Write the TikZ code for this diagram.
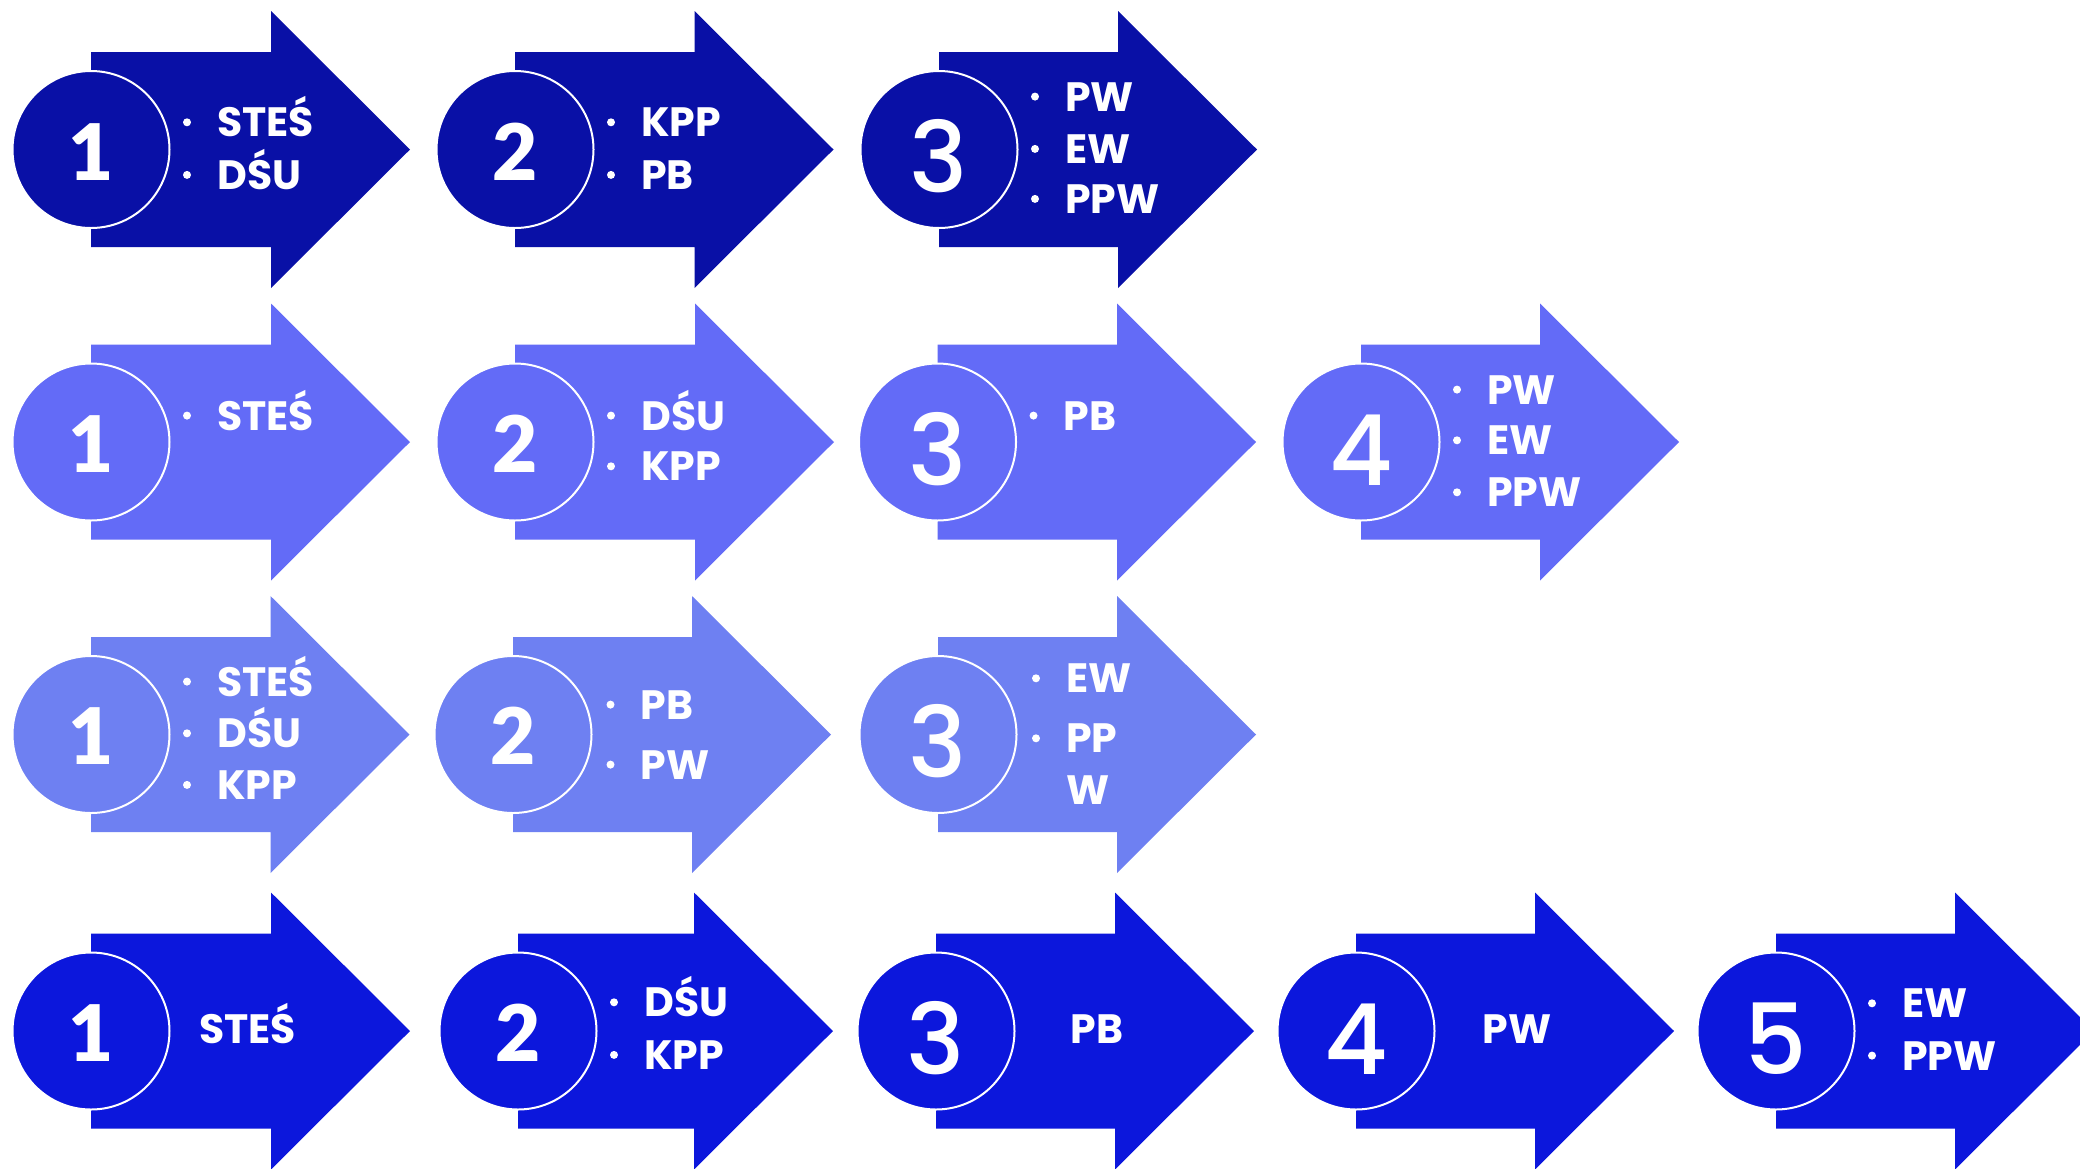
\documentclass[tikz,border=0pt]{standalone}
\usepackage{fontspec}
\newfontfamily\labfont{Poppins Bold}
\newfontfamily\numfontA{Lato Black}
\newfontfamily\numfontB{Poppins Medium}
\definecolor{cA}{HTML}{0910A6}
\definecolor{cB}{HTML}{636BF7}
\definecolor{cC}{HTML}{6E80F2}
\definecolor{cD}{HTML}{0C17DC}
\tikzset{
  disc/.style={circle, draw=white, line width=2pt, minimum size=157pt, inner sep=0pt},
  numA/.style={text=white, font=\numfontA\fontsize{78}{78}\selectfont, anchor=base, inner sep=0pt},
  numB/.style={text=white, font=\numfontB\fontsize{98}{98}\selectfont, anchor=base, inner sep=0pt},
  lab/.style={text=white, font=\labfont\fontsize{41}{41}\selectfont, anchor=base west, inner sep=0pt},
  bul/.style={fill=white},
}
% #1 name, #2 rect left x, #3 centre y, #4 head base x, #5 colour
\newcommand\ArrowBody[5]{%
  \fill[#5] (#2,{#3-97.5}) -- (#4,{#3-97.5}) -- (#4,{#3-138.5}) -- ({#4+139},#3)
    -- (#4,{#3+138.5}) -- (#4,{#3+97.5}) -- (#2,{#3+97.5}) -- cycle;
  \node[disc, fill=#5] (#1) at (#2,#3) {};
}
% #1 name, #2 rect left x, #3 centre y, #4 baseline offset, #5 text
\newcommand\LabB[5]{%
  \node[lab] (#1) at ({#2+126},{#3+#4}) {#5};
  \fill[bul] ({#2+96},{#3+#4-14.4}) circle (4);
}
\begin{document}
\begin{tikzpicture}[x=1pt,y=-1pt]
\useasboundingbox (0,0) rectangle (2080,1168);
\fill[white] (0,0) rectangle (2080,1168);

% ---------- row 1 ----------
\ArrowBody{a11}{91}{149.5}{271}{cA}
\node[numA] (a11n) at (91,180.5) {1};
\LabB{a11a}{91}{149.5}{-12.8}{STEŚ}
\LabB{a11b}{91}{149.5}{39.8}{DŚU}

\ArrowBody{a12}{515}{149.5}{694.5}{cA}
\node[numA] (a12n) at (515,180.5) {2};
\LabB{a12a}{515}{149.5}{-12.8}{KPP}
\LabB{a12b}{515}{149.5}{39.8}{PB}

\ArrowBody{a13}{939}{149.5}{1118}{cA}
\node[numB] (a13n) at (939,192.5) {3};
\LabB{a13a}{939}{149.5}{-38.5}{PW}
\LabB{a13b}{939}{149.5}{13.8}{EW}
\LabB{a13c}{939}{149.5}{63.8}{PPW}

% ---------- row 2 ----------
\ArrowBody{a21}{91}{442}{271}{cB}
\node[numA] (a21n) at (91,472) {1};
\LabB{a21a}{91}{442}{-12}{STEŚ}

\ArrowBody{a22}{515}{442}{695}{cB}
\node[numA] (a22n) at (515,472) {2};
\LabB{a22a}{515}{442}{-12}{DŚU}
\LabB{a22b}{515}{442}{38.7}{KPP}

\ArrowBody{a23}{937.5}{442}{1117}{cB}
\node[numB] (a23n) at (937.5,485) {3};
\LabB{a23a}{937.5}{442}{-12}{PB}

\ArrowBody{a24}{1361}{442}{1540}{cB}
\node[numB] (a24n) at (1361,485) {4};
\LabB{a24a}{1361}{442}{-38}{PW}
\LabB{a24b}{1361}{442}{12.7}{EW}
\LabB{a24c}{1361}{442}{64.7}{PPW}

% ---------- row 3 ----------
\ArrowBody{a31}{91}{734.5}{270.5}{cC}
\node[numA] (a31n) at (91,764.5) {1};
\LabB{a31a}{91}{734.5}{-38.5}{STEŚ}
\LabB{a31b}{91}{734.5}{13.2}{DŚU}
\LabB{a31c}{91}{734.5}{64.8}{KPP}

\ArrowBody{a32}{513}{734.5}{692}{cC}
\node[numA] (a32n) at (513,764.5) {2};
\LabB{a32a}{514.5}{734.5}{-15.5}{PB}
\LabB{a32b}{514.5}{734.5}{44.5}{PW}

\ArrowBody{a33}{938}{734.5}{1117}{cC}
\node[numB] (a33n) at (938,777.5) {3};
\LabB{a33a}{940}{734.5}{-41.8}{EW}
\LabB{a33b}{940}{734.5}{18.2}{PP}
\node[lab] (a33c) at (1066,804.3) {W};

% ---------- row 4 ----------
\ArrowBody{a41}{91}{1031}{271}{cD}
\node[numA] (a41n) at (91,1061) {1};
\node[lab] (a41a) at (199,1043.3) {STEŚ};

\ArrowBody{a42}{518}{1031}{694}{cD}
\node[numA] (a42n) at (518,1061) {2};
\LabB{a42a}{518}{1031}{-14.3}{DŚU}
\LabB{a42b}{518}{1031}{38.3}{KPP}

\ArrowBody{a43}{936}{1031}{1115}{cD}
\node[numB] (a43n) at (936,1074) {3};
\node[lab] (a43a) at (1070.6,1043.3) {PB};

\ArrowBody{a44}{1356}{1031}{1535}{cD}
\node[numB] (a44n) at (1356,1074) {4};
\node[lab] (a44a) at (1482.4,1043.3) {PW};

\ArrowBody{a45}{1776}{1031}{1955}{cD}
\node[numB] (a45n) at (1776,1074) {5};
\LabB{a45a}{1776}{1031}{-13.3}{EW}
\LabB{a45b}{1776}{1031}{39}{PPW}
\end{tikzpicture}
\end{document}
